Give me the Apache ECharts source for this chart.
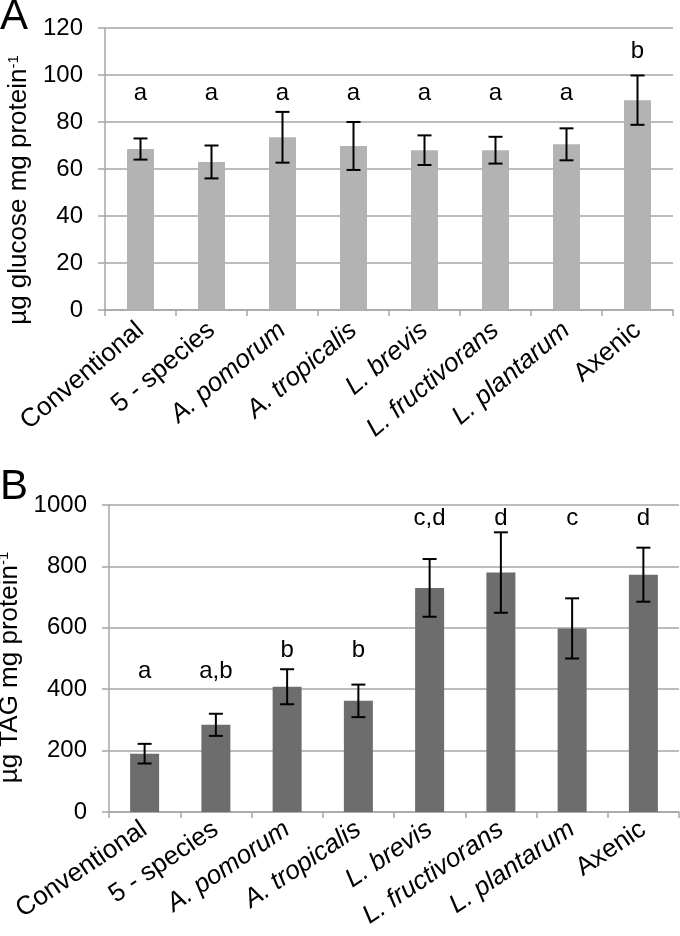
<!DOCTYPE html>
<html><head><meta charset="utf-8">
<script src="https://cdn.jsdelivr.net/npm/echarts@6/dist/echarts.min.js"></script>
<style>html,body{margin:0;padding:0;background:#fff}#c{width:680px;height:936px}</style>
</head><body><div id="c"></div>
<script>
// ---- data ----
const categories = ['Conventional', '5 - species', 'A. pomorum', 'A. tropicalis', 'L. brevis', 'L. fructivorans', 'L. plantarum', 'Axenic'];
const italicCategories = ['A. pomorum', 'A. tropicalis', 'L. brevis', 'L. fructivorans', 'L. plantarum'];

const glucoseMean = [68.5, 63, 73.5, 69.8, 68, 68, 70.5, 89.3];
const glucoseErr = [4.5, 7, 10.8, 10.2, 6.3, 5.7, 6.8, 10.5];
const glucoseLetters = ['a', 'a', 'a', 'a', 'a', 'a', 'a', 'b'];
const glucoseLetterY = [92, 92, 92, 92, 92, 92, 92, 110];
const glucoseTicks = [0, 120, 20]; // min, max, interval

const tagMean = [190, 284, 408, 362, 730, 780, 598, 773];
const tagErr = [32, 36, 57, 53, 94, 131, 98, 88];
const tagLetters = ['a', 'a,b', 'b', 'b', 'c,d', 'd', 'c', 'd'];
const tagLetterY = [458, 458, 527, 527, 955, 955, 955, 955];
const tagTicks = [0, 1000, 200];

// ---- style ----
const FONT = '"Liberation Sans", Arial, sans-serif';
const GRID_COLOR = '#a6a6a6';

function xAxisDef(gridIndex, rotate, margin) {
  return {
    type: 'category', gridIndex, data: categories,
    axisLine: { lineStyle: { color: GRID_COLOR, width: 1.5 } },
    axisTick: { show: true, length: 6, lineStyle: { color: GRID_COLOR, width: 1.5 } },
    axisLabel: {
      rotate, margin, interval: 0, color: '#000', fontFamily: FONT, fontSize: 26,
      formatter: v => italicCategories.includes(v) ? '{i|' + v + '}' : '{n|' + v + '}',
      rich: {
        i: { fontStyle: 'italic', fontFamily: FONT, fontSize: 26, color: '#000' },
        n: { fontFamily: FONT, fontSize: 26, color: '#000' }
      }
    }
  };
}
function yAxisDef(gridIndex, ticks, name, nameGap, pad) {
  return {
    type: 'value', gridIndex, min: ticks[0], max: ticks[1], interval: ticks[2],
    name, nameLocation: 'middle', nameGap, nameRotate: 90,
    nameTextStyle: {
      fontFamily: FONT, fontSize: 26, color: '#000', padding: pad,
      rich: { sup: { fontFamily: FONT, fontSize: 15, color: '#000', verticalAlign: 'top', lineHeight: 26 } }
    },
    axisLine: { show: true, lineStyle: { color: GRID_COLOR, width: 1.5 } },
    axisTick: { show: true, length: 7, lineStyle: { color: GRID_COLOR, width: 1.5 } },
    splitLine: { lineStyle: { color: GRID_COLOR, width: 1.5 } },
    axisLabel: { color: '#000', fontFamily: FONT, fontSize: 24, margin: 22, formatter: v => String(v) }
  };
}
function errorBarSeries(idx, means, errs) {
  return {
    type: 'custom', xAxisIndex: idx, yAxisIndex: idx, z: 10,
    data: means.map((m, i) => [i, m - errs[i], m + errs[i]]),
    renderItem(params, api) {
      const lo = api.coord([api.value(0), api.value(1)]);
      const hi = api.coord([api.value(0), api.value(2)]);
      const hw = 7;
      const style = { stroke: '#000', lineWidth: 2 };
      return { type: 'group', children: [
        { type: 'line', shape: { x1: hi[0], y1: hi[1], x2: lo[0], y2: lo[1] }, style },
        { type: 'line', shape: { x1: hi[0] - hw, y1: hi[1], x2: hi[0] + hw, y2: hi[1] }, style },
        { type: 'line', shape: { x1: lo[0] - hw, y1: lo[1], x2: lo[0] + hw, y2: lo[1] }, style }
      ] };
    }
  };
}
function letterSeries(idx, letters, ys) {
  return {
    type: 'custom', xAxisIndex: idx, yAxisIndex: idx, z: 11,
    data: ys.map((y, i) => [i, y]),
    renderItem(params, api) {
      const p = api.coord([api.value(0), api.value(1)]);
      return { type: 'text', x: p[0], y: p[1], style: {
        text: letters[params.dataIndex], fill: '#000', fontFamily: FONT, fontSize: 24,
        align: 'center', verticalAlign: 'middle' } };
    }
  };
}

const chart = echarts.init(document.getElementById('c'), null, { renderer: 'canvas' });
chart.setOption({
  animation: false,
  backgroundColor: '#fff',
  grid: [
    { left: 105, right: 7, top: 28, height: 282, outerBoundsMode: 'none', containLabel: false },
    { left: 109, right: 1, top: 505, height: 307, outerBoundsMode: 'none', containLabel: false }
  ],
  xAxis: [xAxisDef(0, 40, 17), xAxisDef(1, 34, 15)],
  yAxis: [
    yAxisDef(0, glucoseTicks, 'µg glucose mg protein{sup|-1}', 59, [0, 42, 0, 0]),
    yAxisDef(1, tagTicks, 'µg TAG mg protein{sup|-1}', 68, [0, 18, 0, 0])
  ],
  series: [
    { type: 'bar', xAxisIndex: 0, yAxisIndex: 0, data: glucoseMean, barWidth: 27, itemStyle: { color: '#b3b3b3' } },
    errorBarSeries(0, glucoseMean, glucoseErr),
    letterSeries(0, glucoseLetters, glucoseLetterY),
    { type: 'bar', xAxisIndex: 1, yAxisIndex: 1, data: tagMean, barWidth: 29, itemStyle: { color: '#6d6d6d' } },
    errorBarSeries(1, tagMean, tagErr),
    letterSeries(1, tagLetters, tagLetterY)
  ],
  graphic: [
    { type: 'text', left: 0, top: -4, style: { text: 'A', fontFamily: FONT, fontSize: 42, fill: '#000' } },
    { type: 'text', left: 0, top: 466, style: { text: 'B', fontFamily: FONT, fontSize: 42, fill: '#000' } }
  ]
});
</script></body></html>
